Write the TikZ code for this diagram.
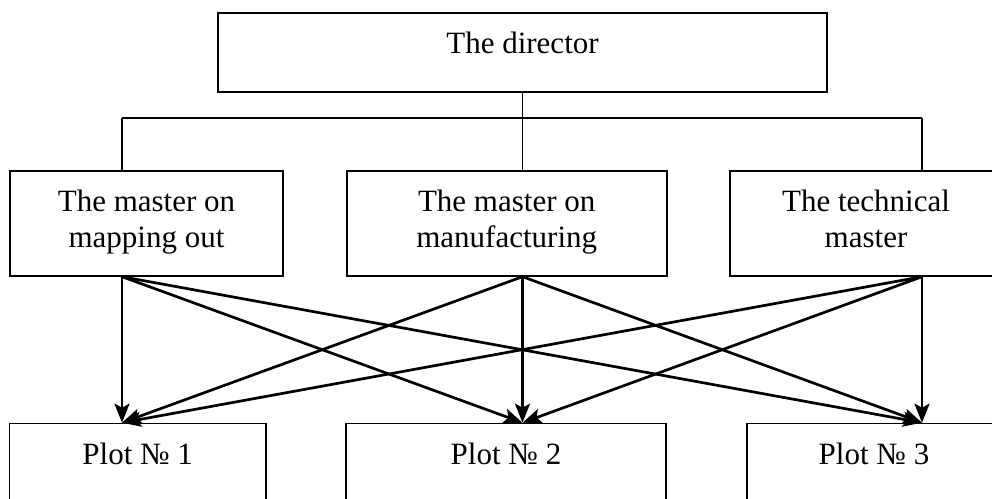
\documentclass[tikz,border=0pt]{standalone}
\usepackage{fontspec}
\setmainfont{Liberation Serif}
\usetikzlibrary{arrows.meta}
\begin{document}
\begin{tikzpicture}[x=1pt,y=-1pt,
  box/.style={draw, line width=1.7pt, inner sep=0pt, align=center, anchor=north,
    font=\fontsize{31}{36}\selectfont},
  tree/.style={line width=1.5pt},
  arr/.style={line width=2.7pt, -{Stealth[length=19pt,width=15pt,inset=4pt]}}]
  \useasboundingbox (0,0) rectangle (992,498);
  \clip (0,0) rectangle (992,498);

  % column lines shared by the tree and the arrows
  \coordinate (col1) at (122,0);
  \coordinate (col2) at (522.5,0);
  \coordinate (col3) at (922,0);
  \coordinate (bus) at (0,118);

  % boxes
  \node[box, minimum width=609pt, text height=41pt, text depth=38pt] (dir) at (522.5,12) {The director};

  \node[box, minimum width=273pt, text height=76.7pt, text depth=28.3pt] (m1) at (146.5,170) {The master on\\mapping out};
  \node[box, minimum width=320pt, text height=76.7pt, text depth=28.3pt] (m2) at (506.7,170) {The master on\\manufacturing};
  \node[box, minimum width=272pt, text height=76.7pt, text depth=28.3pt] (m3) at (866,170) {The technical\\master};

  \node[box, minimum width=256.7pt, text height=41.3pt, text depth=90pt] (p1) at (137.7,422.7) {Plot № 1};
  \node[box, minimum width=320pt, text height=41.3pt, text depth=90pt] (p2) at (506,422.7) {Plot № 2};
  \node[box, minimum width=254.6pt, text height=41.3pt, text depth=90pt] (p3) at (874,422.7) {Plot № 3};

  % director to masters
  \draw[tree] (dir.south -| col2) -- (bus -| col2);
  \draw[tree] (bus -| col1) -- (bus -| col3);
  \foreach \i in {1,2,3} {
    \draw[tree] (bus -| col\i) -- (m\i.north -| col\i);
  }

  % every master to every plot
  \foreach \i in {1,2,3} {
    \foreach \j in {1,2,3} {
      \draw[arr] (m\i.south -| col\i) -- (p\j.north -| col\j);
    }
  }
\end{tikzpicture}
\end{document}
